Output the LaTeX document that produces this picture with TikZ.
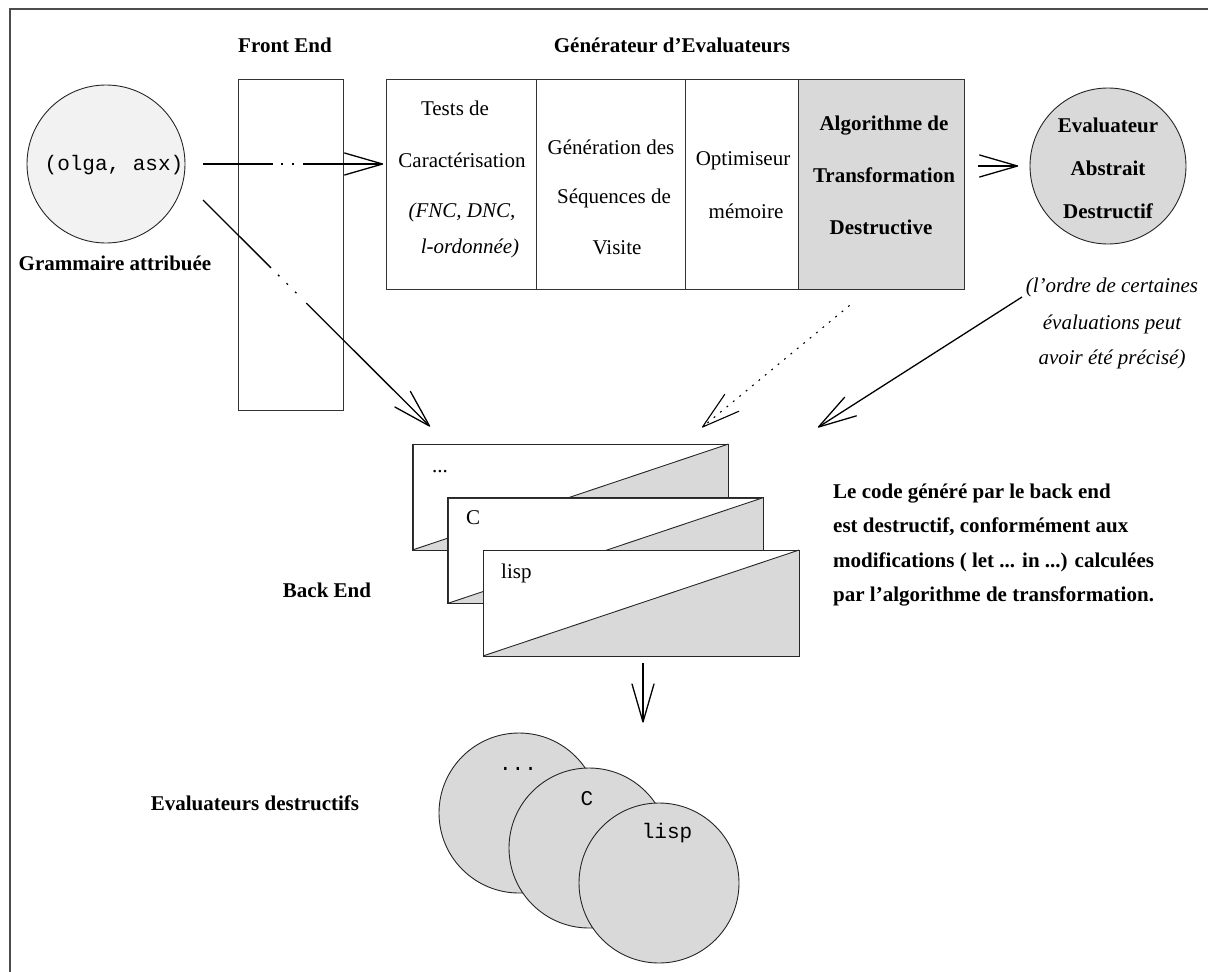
\documentclass[tikz,border=0pt]{standalone}
\usepackage{fontspec}
\setmainfont{Liberation Serif}
\setmonofont{Liberation Mono}
\usetikzlibrary{arrows.meta,calc}
\pgfdeclarearrow{
  name = OpenV,
  parameters = {\the\pgfarrowlength,\the\pgfarrowwidth},
  setup code = {
    \pgfarrowssettipend{0pt}
    \pgfarrowssetlineend{-0.5\pgflinewidth}
    \pgfarrowsupperhullpoint{-\pgfarrowlength}{.5\pgfarrowwidth}
    \pgfarrowsupperhullpoint{0pt}{0pt}
    \pgfarrowssavethe\pgfarrowlength
    \pgfarrowssavethe\pgfarrowwidth
  },
  drawing code = {
    \pgfsetdash{}{+0pt}
    \pgfsetroundjoin
    \pgfsetroundcap
    \pgfpathmoveto{\pgfqpoint{-\pgfarrowlength}{.5\pgfarrowwidth}}
    \pgfpathlineto{\pgfpointorigin}
    \pgfpathlineto{\pgfqpoint{-\pgfarrowlength}{-.5\pgfarrowwidth}}
    \pgfusepathqstroke
  },
  defaults = {length = 38pt, width = 22pt}
}
\definecolor{figgray}{HTML}{D9D9D9}
\definecolor{lightg}{HTML}{F2F2F2}
\begin{document}
\begin{tikzpicture}[x=1pt,y=-1pt,
  rm/.style={font=\fontsize{21}{25}\selectfont, anchor=base, inner sep=0pt},
  bf/.style={font=\fontsize{21}{25}\selectfont\bfseries, anchor=base, inner sep=0pt},
  itx/.style={font=\fontsize{21}{25}\selectfont\itshape, anchor=base, inner sep=0pt},
  ttx/.style={font=\fontsize{21}{25}\selectfont\ttfamily, anchor=base, inner sep=0pt},
  bx/.style={draw=black!80, line width=0.9pt, rectangle, inner sep=0pt},
  circ/.style={draw=black!85, line width=0.9pt, circle, inner sep=0pt},
  arr/.style={draw=black, line width=1.3pt, -{OpenV[length=38pt,width=22pt]}},
  pagebox/.style={bx, fill=white, minimum width=315, minimum height=105}
]
\useasboundingbox (0,0) rectangle (1208,972);
% frame
\draw[line width=1.6pt, black!70] (10,972) -- (10,9) -- (1208,9);

% titles
\node[bf] (tfe) at (285,52) {Front End};
\node[bf] (tgen) at (672,52) {Générateur d’Evaluateurs};

% grammar
\node[circ, fill=lightg, minimum size=158] (gram) at (106,164) {};
\node[ttx] (olga) at (114,170) {(olga, asx)};
\node[bf] (tgram) at (115,270) {Grammaire attribuée};

% front end box
\node[bx, minimum width=105, minimum height=331] (fe) at (290.5,244.5) {};

% generator cells
\node[bx, minimum width=150, minimum height=210] (c1) at (461,184) {};
\node[bx, minimum width=149, minimum height=210] (c2) at (610.5,184) {};
\node[bx, minimum width=113, minimum height=210] (c3) at (741.5,184) {};
\node[bx, fill=figgray, minimum width=166, minimum height=210] (c4) at (881,184) {};

\node[rm] (t11) at (455,115) {Tests de};
\node[rm] (t12) at (462,167) {Caractérisation};
\node[itx] (t13) at (462,217) {(FNC, DNC,};
\node[itx] (t14) at (470,253) {l-ordonnée)};
\node[rm] (t21) at (611,154) {Génération des};
\node[rm] (t22) at (614,203) {Séquences de};
\node[rm] (t23) at (617,254) {Visite};
\node[rm] (t31) at (743,165) {Optimiseur};
\node[rm] (t32) at (746,218) {mémoire};
\node[bf] (t41) at (884,130) {Algorithme de};
\node[bf] (t42) at (884,182) {Transformation};
\node[bf] (t43) at (881,234) {Destructive};

% evaluator abstrait
\node[circ, fill=figgray, minimum size=156] (ev) at (1108,166) {};
\node[bf] (e1t) at (1108,132) {Evaluateur};
\node[bf] (e2t) at (1108,175) {Abstrait};
\node[bf] (e3t) at (1108,218) {Destructif};
\node[itx] (n1) at (1112,292) {(l’ordre de certaines};
\node[itx] (n2) at (1112,329) {évaluations peut};
\node[itx] (n3) at (1112,364) {avoir été précisé)};

% back end pages
\node[pagebox] (p1) at (570.5,497) {};
\fill[figgray] (p1.south west) -- (p1.north east) -- (p1.south east) -- cycle;
\draw[black!85, line width=0.9pt] (p1.south west) rectangle (p1.north east);
\draw[black!85, line width=0.9pt] (p1.south west) -- (p1.north east);
\node[rm, anchor=base west] (p1t) at (432,472) {...};

\node[pagebox] (p2) at (605.5,550.5) {};
\fill[figgray] (p2.south west) -- (p2.north east) -- (p2.south east) -- cycle;
\draw[black!85, line width=0.9pt] (p2.south west) rectangle (p2.north east);
\draw[black!85, line width=0.9pt] (p2.south west) -- (p2.north east);
\node[rm, anchor=base west] (p2t) at (466,524) {C};

\node[pagebox] (p3) at (641,603) {};
\fill[figgray] (p3.south west) -- (p3.north east) -- (p3.south east) -- cycle;
\draw[black!85, line width=0.9pt] (p3.south west) rectangle (p3.north east);
\draw[black!85, line width=0.9pt] (p3.south west) -- (p3.north east);
\node[rm, anchor=base west] (p3t) at (501,578) {lisp};

\node[bf] (tbe) at (327,597) {Back End};

% right text
\node[bf, anchor=base west] (r1) at (833,498) {Le code généré par le back end};
\node[bf, anchor=base west] (r2) at (833,532) {est destructif, conformément aux};
\node[bf, anchor=base west] (r3) at (833,567) {modifications ( let ... in ...) calculées};
\node[bf, anchor=base west] (r4) at (833,601) {par l’algorithme de transformation.};

% destructive evaluators
\node[circ, fill=figgray, minimum size=160] (d1) at (519,813) {};
\node[ttx] (d1t) at (518,770) {...};
\node[circ, fill=figgray, minimum size=160] (d2) at (589,848) {};
\node[ttx] (d2t) at (587,805) {C};
\node[circ, fill=figgray, minimum size=160] (d3) at (659,883) {};
\node[ttx] (d3t) at (667,838) {lisp};
\node[bf] (tde) at (255,810) {Evaluateurs destructifs};

% arrows
\draw[arr, dash pattern=on 70pt off 8pt on 2pt off 9pt on 2pt off 9pt on 400pt]
  ($(gram.east)+(18,0)$) -- ($(gram.east -| c1.west)+(-3,0)$);
\draw[arr, dash pattern=on 96pt off 10pt on 2pt off 10pt on 2pt off 10pt on 2pt off 14pt on 400pt]
  ($(gram.center)+(97,36)$) -- ($(p1.north west)+(17,-18)$);
\draw[arr, line width=1.1pt, dash pattern=on 1.8pt off 6.5pt]
  ($(c4.south west)+(52,16)$) -- ($(p1.north east)+(-26,-17)$);
\draw[arr] ($(ev.center)+(-86,131)$) -- ($(p1.north east)+(90,-17)$);
\draw[arr] ($(c4.east |- ev.west)+(14,0)$) -- ($(ev.west)+(-12,0)$);
\coordinate (dn) at (643,722);
\draw[arr] ($(p3.south)+(2,7)$) -- (dn);
\end{tikzpicture}
\end{document}
